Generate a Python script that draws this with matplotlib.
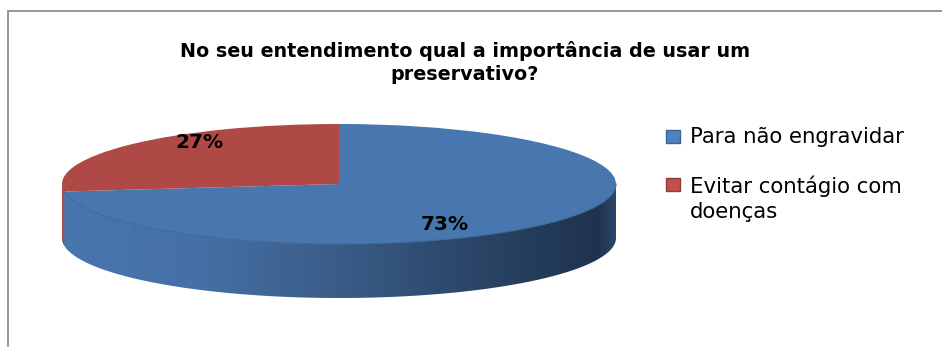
#!/usr/bin/env python3
# plot.py

import matplotlib
matplotlib.use('Agg')
import matplotlib.pyplot as plt
import numpy as np
from matplotlib.colors import LinearSegmentedColormap
from matplotlib.patches import Polygon, Rectangle

W, H = 942, 347

title = 'No seu entendimento qual a importância de usar um\npreservativo?'
categories = ['Para não engravidar', 'Evitar contágio com\ndoenças']
values = [73, 27]
top_colors = ['#4876AF', '#AE4946']
key_colors = ['#4F81BD', '#C0504D']
key_edges = ['#3A6496', '#8E3B39']

# Ellipse geometry of the pie, in pixels
CX, CY = 339, 184
RX, RY = 277, 60
DEPTH = 54

fig = plt.figure(figsize=(W / 100, H / 100), dpi=100, facecolor='white')

# Pie axes: unit radius stretched to flatten it, with room below for the wall
pie_ax = fig.add_axes([(CX - 1.25 * RX) / W, 1 - (CY + 2.5 * RY) / H,
                       2.5 * RX / W, 3.75 * RY / H])
wedges, _ = pie_ax.pie(values, colors=top_colors, startangle=90, counterclock=False,
                       wedgeprops={'linewidth': 0}, normalize=True)
pie_ax.set_aspect('auto')
pie_ax.patch.set_visible(False)
depth = DEPTH / RY

# Side wall of the pie, shaded left to right
theta = np.radians(np.linspace(180, 360, 200))
side_x = np.cos(theta)
side_y = np.sin(theta)
side_pts = np.vstack([np.c_[side_x, side_y], np.c_[side_x[::-1], side_y[::-1] - depth]])
side = Polygon(side_pts, closed=True, transform=pie_ax.transData, facecolor='none', edgecolor='none')
pie_ax.add_patch(side)
side_cmap = LinearSegmentedColormap.from_list(
    'side', [(0, '#4876AF'), (0.25, '#4570A5'), (0.5, '#3A5C88'), (0.75, '#2A4567'), (0.97, '#1E334F'), (1, '#2A4567')])
grad = pie_ax.imshow(np.linspace(0, 1, 400).reshape(1, -1), cmap=side_cmap, aspect='auto',
                     extent=(-1, 1, -1 - depth, 0), zorder=0.5)
grad.set_clip_path(side)

# Red part of the wall, only a sliver at the far left
red_end = np.radians(180 + 360 * 0.02)
red_theta = np.linspace(np.pi, red_end, 12)
red_pts = np.vstack([np.c_[np.cos(red_theta), np.sin(red_theta)],
                     np.c_[np.cos(red_theta[::-1]), np.sin(red_theta[::-1]) - depth]])
pie_ax.add_patch(Polygon(red_pts, closed=True, facecolor='#AE4946', edgecolor='none', zorder=0.6))

# Darker rim where the top face meets the wall
pie_ax.plot(side_x[8:], side_y[8:], color='#3F6898', lw=0.8, zorder=3)

pie_ax.set_xlim(-1.25, 1.25)
pie_ax.set_ylim(-2.5, 1.25)
for w in wedges:
    w.set_zorder(2)

# Overlay in pixel coordinates for frame, text and legend
ax = fig.add_axes([0, 0, 1, 1])
ax.set_xlim(0, W)
ax.set_ylim(H, 0)
ax.axis('off')

ax.plot([8, 8, W], [H, 11, 11], color='#8C8C8C', lw=1.3, solid_joinstyle='miter')

ax.text(465, 62.5, title, ha='center', va='center', fontsize=13.8, fontweight='bold',
        family='DejaVu Sans', linespacing=1.24, color='black')

ax.text(199, 142, f'{values[1]}%', ha='center', va='center', fontsize=14.5, fontweight='bold',
        family='DejaVu Sans', color='black')
ax.text(445, 224, f'{values[0]}%', ha='center', va='center', fontsize=14.5, fontweight='bold',
        family='DejaVu Sans', color='black')

key_y = [130, 177.5]
text_y = [137, 199]
for cat, face, edge, ky, ty in zip(categories, key_colors, key_edges, key_y, text_y):
    ax.add_patch(Rectangle((665.5, ky), 14, 13, facecolor=face, edgecolor=edge, lw=1))
    ax.text(690, ty, cat, ha='left', va='center', fontsize=15.3, family='DejaVu Sans',
            color='black', linespacing=1.3)

fig.savefig('out.png', dpi=100)
